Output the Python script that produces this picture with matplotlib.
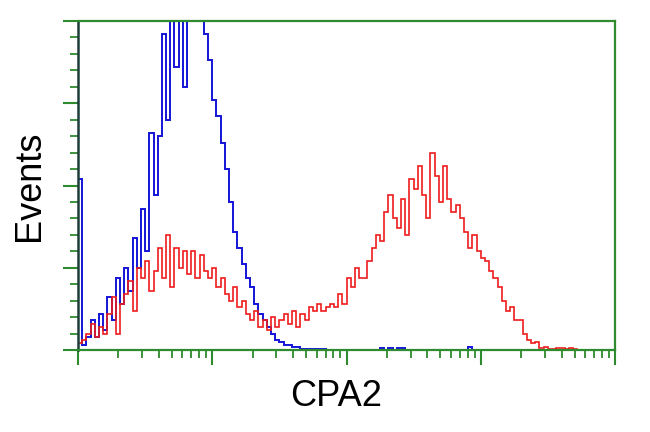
import numpy as np
import matplotlib
matplotlib.use("Agg")
import matplotlib.pyplot as plt
from matplotlib.ticker import LogLocator, MultipleLocator, NullFormatter

plt.rcParams['font.family'] = ['Liberation Sans', 'DejaVu Sans']

# 128 log-spaced channels between 10^0 and 10^4, events per channel
control_counts = [
    52, 1.5, 4, 9, 4, 11, 6, 16, 9, 22, 14, 25, 18, 34, 25, 43,
    30, 66, 47, 65, 96, 70, 105, 86, 110, 80, 108, 112, 110, 100, 96, 88,
    76, 71, 63, 55, 45, 36, 31, 26, 22, 19, 14, 11, 9, 7, 5, 3,
    2.5, 1.5, 1.5, 1, 0.8, 0.4, 0.4, 0.4, 0.3, 0.4, 0.2, 0, 0, 0, 0, 0,
    0, 0, 0, 0, 0, 0, 0, 0, 0.6, 0, 0.7, 0, 0.6, 0.5, 0, 0,
    0, 0, 0, 0, 0, 0, 0, 0, 0, 0, 0, 0, 0, 0.8, 0, 0,
    0, 0, 0, 0, 0, 0, 0, 0, 0, 0, 0, 0, 0, 0, 0, 0,
    0, 0, 0, 0, 0, 0, 0, 0, 0, 0, 0, 0, 0, 0, 0, 0,
]
cpa2_counts = [
    2, 3, 5, 8, 4, 7, 5, 11, 16, 5, 14, 17, 21, 12, 25, 22,
    27, 18, 24, 31, 22, 35, 19, 31, 25, 30, 23, 30, 22, 29, 24, 22,
    25, 19, 22, 17, 15, 19, 13, 15, 11, 9, 12, 7, 9, 6, 10, 7,
    9, 11, 8, 12, 7, 11, 9, 13, 12, 14, 12, 13, 14, 13, 17, 14,
    22, 19, 25, 22, 22, 27, 31, 35, 33, 42, 47, 40, 37, 46, 35, 52,
    49, 56, 47, 40, 60, 53, 45, 56, 46, 42, 44, 40, 36, 31, 35, 30,
    28, 27, 24, 22, 19, 15, 12, 13, 9, 9, 5, 3, 2, 2.5, 0.6, 0.8,
    0.3, 0.2, 0.6, 0.5, 0.2, 0.6, 0.4, 0, 0, 0, 0, 0, 0, 0, 0, 0,
]

frame = '#2e8b2e'

fig = plt.figure(figsize=(6.5, 4.32), dpi=100)
ax = fig.add_axes([78 / 650, 1 - 350 / 432, (615 - 78) / 650, (350 - 21) / 432])

ax.stairs(control_counts, np.logspace(0, 4, len(control_counts) + 1),
          color='#1414d8', linewidth=1.4)
ax.stairs(cpa2_counts, np.logspace(0, 4, len(cpa2_counts) + 1),
          color='#ee1c1c', linewidth=1.2)

ax.set_xscale('log')
ax.set_xlim(1, 1e4)
ax.set_ylim(0, 100)

for side in ['top', 'right', 'bottom']:
    ax.spines[side].set_color(frame)
    ax.spines[side].set_linewidth(1.6)
ax.spines['left'].set_color('#1c3d3a')
ax.spines['left'].set_linewidth(1.8)

ax.xaxis.set_major_locator(LogLocator(base=10, numticks=10))
ax.xaxis.set_minor_locator(LogLocator(base=10, subs=np.arange(2, 10), numticks=20))
ax.yaxis.set_major_locator(MultipleLocator(25))
ax.yaxis.set_minor_locator(MultipleLocator(5))
ax.xaxis.set_major_formatter(NullFormatter())
ax.xaxis.set_minor_formatter(NullFormatter())
ax.yaxis.set_major_formatter(NullFormatter())

ax.tick_params(which='major', length=11, width=1.5, color=frame, direction='out')
ax.tick_params(which='minor', length=6, width=1.3, color=frame, direction='out')

ax.set_ylabel('Events', fontsize=26, labelpad=8)
fig.text(336 / 650, 1 - 396 / 432, 'CPA2', fontsize=26, ha='center', va='center')

fig.savefig('out.png', dpi=100)
